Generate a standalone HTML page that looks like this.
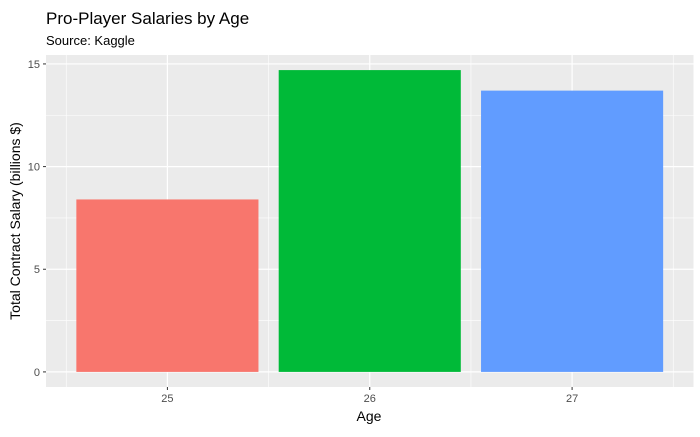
<!DOCTYPE html>
<html><head><meta charset="utf-8"><style>
body{margin:0;background:#fff;font-family:"Liberation Sans",Arial,sans-serif}
</style></head><body>
<svg width="700" height="432" xmlns="http://www.w3.org/2000/svg">
<text x="46" y="24" font-size="17" fill="#000">Pro-Player Salaries by Age</text>
<text x="46" y="45" font-size="13" fill="#000">Source: Kaggle</text>
<rect x="46" y="55" width="647.5" height="332" fill="#ebebeb"/>
<g id="grid"></g><g id="bars"></g><g id="axes"></g>
<text x="369" y="421" font-size="14" text-anchor="middle" fill="#000">Age</text>
<text transform="translate(20,221) rotate(-90)" font-size="14" text-anchor="middle" fill="#000">Total Contract Salary (billions $)</text>
</svg>
<script>
const categories=["25","26","27"];
const values=[8.4,14.7,13.7];
const colors=["#F8766D","#00BA38","#619CFF"];
const yTicks=[0,5,10,15];
const NS="http://www.w3.org/2000/svg";
const L=46,R=693.5,T=55,B=387;
const yMin=-0.735,yMax=15.435;
function y(v){return B-(v-yMin)/(yMax-yMin)*(B-T);}
function x(i){return L+(i+0.6)*(R-L)/(categories.length+0.2);}
const step=(R-L)/(categories.length+0.2);
function mk(tag,attrs,parent){const e=document.createElementNS(NS,tag);for(const k in attrs)e.setAttribute(k,attrs[k]);document.getElementById(parent).appendChild(e);return e;}
const g='grid';
for(let i=0;i<yTicks.length-1;i++){const v=(yTicks[i]+yTicks[i+1])/2;const l=mk('line',{x1:L,x2:R,y1:y(v),y2:y(v),stroke:'#fff','stroke-width':0.6},g);}
for(let i=0;i<=categories.length;i++){const xv=x(i)-step/2;const l=mk('line',{x1:xv,x2:xv,y1:T,y2:B,stroke:'#fff','stroke-width':0.6},g);}
yTicks.forEach(v=>{const l=mk('line',{x1:L,x2:R,y1:y(v),y2:y(v),stroke:'#fff','stroke-width':1.2},g);
const t=mk('line',{x1:L-3,x2:L,y1:y(v),y2:y(v),stroke:'#333','stroke-width':1},'axes');
const tx=mk('text',{x:L-6,y:y(v)+4,'font-size':11,'text-anchor':'end',fill:'#4d4d4d'},'axes');tx.textContent=v;});
categories.forEach((c,i)=>{const l=mk('line',{x1:x(i),x2:x(i),y1:T,y2:B,stroke:'#fff','stroke-width':1.2},g);
const w=step*0.9;const b=mk('rect',{x:x(i)-w/2,y:y(values[i]),width:w,height:y(0)-y(values[i]),fill:colors[i]},'bars');
const t=mk('line',{x1:x(i),x2:x(i),y1:B,y2:B+3,stroke:'#333','stroke-width':1},'axes');
const tx=mk('text',{x:x(i),y:B+15,'font-size':11,'text-anchor':'middle',fill:'#4d4d4d'},'axes');tx.textContent=c;});
</script>
</body></html>
